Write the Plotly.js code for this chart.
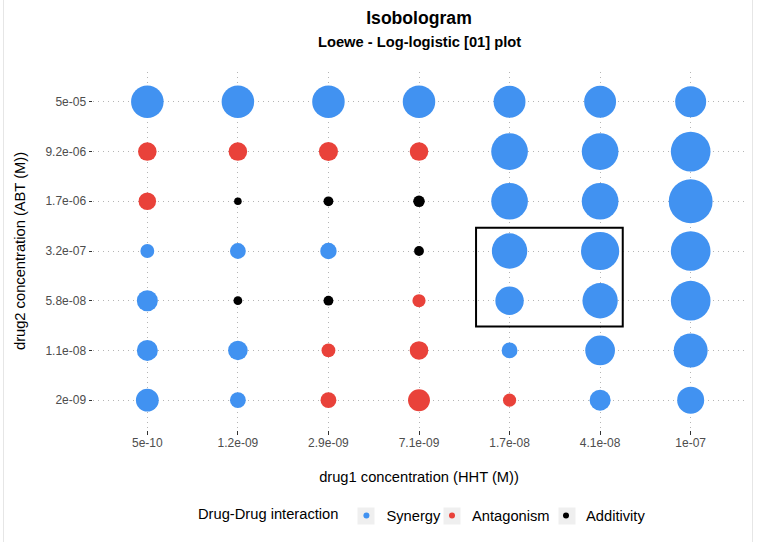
<!DOCTYPE html>
<html>
<head>
<meta charset="utf-8">
<script src="https://cdn.plot.ly/plotly-3.0.1.min.js"></script>
<style>html,body{margin:0;padding:0;background:#fff;}#chart{width:757px;height:546px;}</style>
</head>
<body>
<div id="chart"></div>
<script>
// drug1 (x) and drug2 (y, bottom to top) concentrations
const drug1 = ['5e-10','1.2e-09','2.9e-09','7.1e-09','1.7e-08','4.1e-08','1e-07'];
const drug2 = ['2e-09','1.1e-08','5.8e-08','3.2e-07','1.7e-06','9.2e-06','5e-05'];

// interaction type per drug2 row (S = Synergy, A = Antagonism, D = Additivity)
const type_2e09   = ['S','S','A','A','A','S','S'];
const type_1_1e08 = ['S','S','A','A','S','S','S'];
const type_5_8e08 = ['S','D','D','A','S','S','S'];
const type_3_2e07 = ['S','S','S','D','S','S','S'];
const type_1_7e06 = ['A','D','D','D','S','S','S'];
const type_9_2e06 = ['A','A','A','A','S','S','S'];
const type_5e05   = ['S','S','S','S','S','S','S'];

// absolute interaction score per drug2 row (estimated)
const score_2e09   = [27, 13, 13, 25, 9, 23, 38];
const score_1_1e08 = [23, 20, 10, 18, 13, 46, 60];
const score_5_8e08 = [23, 4, 5, 9, 42, 65, 82];
const score_3_2e07 = [10, 13, 14, 5, 65, 76, 82];
const score_1_7e06 = [16, 3, 5, 7, 70, 70, 100];
const score_9_2e06 = [18, 18, 19, 18, 70, 70, 82];
const score_5e05   = [55, 55, 55, 55, 53, 53, 50];

const typeRows = [type_2e09, type_1_1e08, type_5_8e08, type_3_2e07, type_1_7e06, type_9_2e06, type_5e05];
const scoreRows = [score_2e09, score_1_1e08, score_5_8e08, score_3_2e07, score_1_7e06, score_9_2e06, score_5e05];

const groups = [
  {code: 'S', name: 'Synergy', color: '#4192F1', legend: 'legend'},
  {code: 'A', name: 'Antagonism', color: '#E9423A', legend: 'legend2'},
  {code: 'D', name: 'Additivity', color: '#000000', legend: 'legend3'}
];

const FONT = '"Liberation Sans", Arial, Helvetica, sans-serif';
const traces = [];
groups.forEach(g => {
  const xs = [], ys = [], ss = [];
  typeRows.forEach((row, ri) => {
    row.forEach((t, ci) => {
      if (t === g.code) { xs.push(drug1[ci]); ys.push(drug2[ri]); ss.push(scoreRows[ri][ci]); }
    });
  });
  traces.push({
    type: 'scatter', mode: 'markers', x: xs, y: ys, name: g.name, showlegend: false,
    marker: {color: g.color, opacity: 1, size: ss, sizemode: 'area', sizeref: 100 / (31 * 31), line: {width: 0}},
    hoverinfo: 'x+y+text', text: ss
  });
});
groups.forEach(g => {
  traces.push({
    type: 'scatter', mode: 'markers', x: [null], y: [null], name: g.name, showlegend: true,
    legend: g.legend,
    marker: {color: g.color, opacity: 1, size: 6, line: {width: 0}}, hoverinfo: 'skip'
  });
});

const W = 757, H = 546, L = 93, R = 12, T = 72, B = 116;
const pw = W - L - R, ph = H - T - B;
const px = v => (v - L) / pw;
const py = v => (H - B - v) / ph;

const legendBase = {
  orientation: 'h', xanchor: 'left', y: py(516), yanchor: 'middle',
  font: {family: FONT, size: 14.7, color: '#000000'},
  itemwidth: 30, bgcolor: 'rgba(0,0,0,0)', borderwidth: 0
};

const keyBox = cx => ({
  type: 'rect', xref: 'paper', yref: 'paper', layer: 'above',
  x0: px(cx - 8.5), x1: px(cx + 8.5), y0: py(516 + 8.5), y1: py(516 - 8.5),
  fillcolor: '#EFEFEF', line: {width: 0}
});

const layout = {
  width: W, height: H,
  margin: {l: L, r: R, t: T, b: B, pad: 0},
  paper_bgcolor: '#ffffff', plot_bgcolor: '#ffffff',
  font: {family: FONT, color: '#000000'},
  title: {
    text: 'Isobologram', x: 0.5, xref: 'paper', xanchor: 'center',
    y: 1 - 18 / H, yref: 'container', yanchor: 'middle',
    font: {family: FONT, size: 17.6, weight: 'bold', color: '#000000'}
  },
  annotations: [
    {text: 'Loewe - Log-logistic [01] plot', xref: 'paper', yref: 'paper', x: 0.5, y: py(42),
     xanchor: 'center', yanchor: 'middle', showarrow: false,
     font: {family: FONT, size: 14.7, weight: 'bold', color: '#000000'}}
  ],
  xaxis: {
    type: 'category', categoryorder: 'array', categoryarray: drug1, range: [-0.6, 6.6],
    showgrid: true, gridcolor: '#b5b5b5', griddash: '1px,4px', gridwidth: 1,
    zeroline: false, showline: false,
    ticks: 'outside', ticklen: 3.5, tickwidth: 1, tickcolor: '#333333',
    tickfont: {family: FONT, size: 12, color: '#4D4D4D'}, ticklabelstandoff: -2,
    title: {text: 'drug1 concentration (HHT (M))', font: {family: FONT, size: 14.7, color: '#000000'}, standoff: 22},
    fixedrange: true
  },
  yaxis: {
    type: 'category', categoryorder: 'array', categoryarray: drug2, range: [-0.6, 6.6],
    showgrid: true, gridcolor: '#b5b5b5', griddash: '1px,4px', gridwidth: 1,
    zeroline: false, showline: false,
    ticks: 'outside', ticklen: 3.5, tickwidth: 1, tickcolor: '#333333',
    tickfont: {family: FONT, size: 12, color: '#4D4D4D'},
    title: {text: 'drug2 concentration (ABT (M))', font: {family: FONT, size: 14.7, color: '#000000'}, standoff: 16},
    fixedrange: true
  },
  legend: Object.assign({}, legendBase, {
    x: px(196),
    title: {text: 'Drug-Drug interaction', side: 'left', font: {family: FONT, size: 14.7, color: '#000000'}}
  }),
  legend2: Object.assign({}, legendBase, {x: px(432)}),
  legend3: Object.assign({}, legendBase, {x: px(546)}),
  shapes: [
    keyBox(366), keyBox(452), keyBox(567),
    {type: 'rect', xref: 'x', yref: 'y', x0: 3.63, x1: 5.25, y0: 1.48, y1: 3.47,
     line: {color: '#000000', width: 2}, fillcolor: 'rgba(0,0,0,0)', layer: 'above'},
    {type: 'line', xref: 'paper', yref: 'paper', x0: px(3.5), x1: px(3.5), y0: py(0), y1: py(542),
     line: {color: '#e6e6e6', width: 1}},
    {type: 'line', xref: 'paper', yref: 'paper', x0: px(752.5), x1: px(752.5), y0: py(0), y1: py(542),
     line: {color: '#e6e6e6', width: 1}}
  ],
  showlegend: true
};

Plotly.newPlot('chart', traces, layout, {displayModeBar: false, staticPlot: true});
</script>
</body>
</html>
